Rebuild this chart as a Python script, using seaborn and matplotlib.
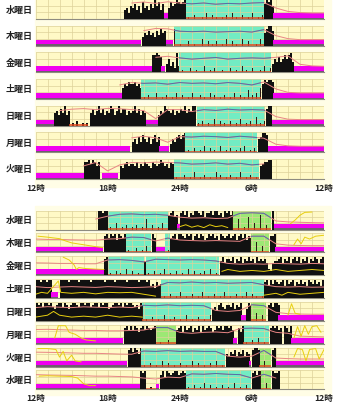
import numpy as np
import pandas as pd
import matplotlib
matplotlib.use("Agg")
import matplotlib.pyplot as plt
from matplotlib.patches import Rectangle
from matplotlib.ticker import MultipleLocator
import seaborn as sns

# ---------------------------------------------------------------- data
# Hours are counted from noon (0 = 12時, 24 = 12時 next day).
TOP_DAYS = ["水曜日", "木曜日", "金曜日", "土曜日", "日曜日", "月曜日", "火曜日"]
BOT_DAYS = ["水曜日", "木曜日", "金曜日", "土曜日", "日曜日", "月曜日", "火曜日", "水曜日"]
TICK_HOURS = [0, 6, 12, 18, 24]
TICK_LABELS = ["12時", "18時", "24時", "6時", "12時"]

# activity counts, one digit (0-9) per 10-minute epoch, 4 hours per chunk
TOP_ACTIVITY = [
    "000000000000000000000000" "000000000000000000004536" "574638564759684700586798"
    "789010020001030020100102" "003010020010300102798960" "000000000000000000000000",
    "000000000000000000000000" "000000000000000000000000" "000004657564758670000800"
    "100020010003002010200103" "002010030020001030689970" "000000000000000000000000",
    "000000000000000000000000" "000000000000000000000000" "000000000088987004635293"
    "010002001000300102000100" "020010030100200010300246" "575686895000000000000000",
    "000000000000000000000000" "000000000000000000057687" "786750102000300102001030"
    "020010300020100302001020" "010300201040203057989980" "000000000000000000000000",
    "000000000675869570102001" "010685796857698579688576" "796857600000057698768576"
    "879687990102001003002010" "020010300102004010289900" "000000000000000000000000",
    "000000000000000000000000" "000000000000000000000000" "564758657468570000046578"
    "689010020010300201003001" "020010203001020679980000" "000000000000000000000000",
    "000000000000000000000000" "889798680000000000657867" "768576876587679867587010"
    "002001030010200100302001" "020010300102001067889900" "000000000000000000000000",
]
BOT_ACTIVITY = [
    "000000000000000000000000" "000000099899010030010200" "102001050020010300789670"
    "897968799879688979978698" "979005001060030070020090" "000000000000000000000000",
    "000000000000000000000000" "000000000089798969879010" "002001030097000000178969"
    "987989689798679897869878" "978968979687005003000889" "000000000000000000000000",
    "000000000000000000000000" "000000000089010020100300" "200100701002001030010020"
    "010030020010200300107968" "879687968797869787863267" "789687968979687968798689",
    "998998990000999989999899" "999899999989999899999899" "999899989675867010020010"
    "300100200103001002001030" "010020010300201001896979" "878969789687978698797869",
    "989799897689979868998799" "899789979899678998979899" "878698010020010030010200"
    "100300100200100367589768" "879687900698004003008979" "980000000000000000000000",
    "000000000000000000000000" "000000000000000000008979" "798689798789001000200078"
    "969789687969789867989799" "897008690100200300100898" "978098690000000000000000",
    "000000000000000000000000" "000000000000000000000089" "798690100200100300200100"
    "200100300200100200300106" "576857685760899800300089" "000000000000000000000000",
    "000000000000000000000000" "000000000000000000000000" "000098900100007969878997"
    "898010020010300200100200" "100300100200897990030098" "890000000000000000000000",
]

# main sleep (aquamarine), naps (green), off-wrist (magenta), quiet rest
TOP_SLEEP = [[(12.5, 19.0)], [(11.5, 19.0)], [(11.9, 19.6)], [(8.75, 18.8)],
             [(13.4, 19.1)], [(12.4, 18.4)], [(11.5, 18.6)]]
TOP_NAP = [[], [], [], [], [], [], []]
TOP_OFF = [[(10.7, 11.0), (19.75, 24)], [(0, 8.75), (10.85, 11.4), (19.75, 24)],
           [(0, 9.7), (10.4, 10.8), (21.5, 24)], [(0, 7.2), (19.75, 24)],
           [(0, 1.5), (9.2, 10.2), (19.7, 24)], [(0, 7.9), (10.25, 11.1), (19.3, 24)],
           [(0, 4.0), (5.5, 6.9)]]
TOP_REST = [[], [], [], [], [(2.75, 4.4)], [], []]

BOT_SLEEP = [[(6.0, 11.0)], [(7.5, 9.6), (10.8, 11.2)], [(6.0, 9.0), (9.2, 15.25)],
             [(10.4, 19.0)], [(8.9, 14.6)], [(17.3, 19.4)], [(8.75, 15.8)], [(12.5, 17.9)]]
BOT_NAP = [[(16.4, 19.6)], [(17.9, 19.4)], [], [], [(17.9, 19.2)], [(10.0, 11.7)],
           [(18.6, 19.6)], [(18.75, 19.6)]]
BOT_OFF = [[(11.8, 12.0), (19.8, 24)], [(0, 5.6), (10.0, 10.8), (19.9, 24)], [(0, 5.7)],
           [(1.25, 1.9)], [(17.1, 17.5), (20.2, 24)], [(0, 7.3), (16.4, 16.75), (21.25, 24)],
           [(0, 7.6), (17.75, 17.9), (20.0, 24)], [(0, 8.7), (10.0, 10.25)]]
BOT_REST = [[], [], [], [], [], [], [], [(9.2, 10.0)]]

# skin temperature, hourly (fraction of row height), None = no recording
N = None
TOP_TEMP = [
    [N, N, N, N, N, N, N, N, .80, .85, .78, .86, .80, .76, .80, .74, .78, .76, .80, .82, .55, .38, .32, .30, .30],
    [N, N, N, N, N, N, N, N, N, .75, .86, .84, .72, .70, .72, .68, .70, .72, .68, .80, .50, .35, .30, .30, .30],
    [N, N, N, N, N, N, N, N, N, N, .75, .80, .72, .66, .70, .74, .66, .70, .72, .70, .75, .82, .40, .32, .30],
    [N, N, N, N, N, N, N, .70, .82, .78, .80, .74, .82, .78, .80, .76, .82, .78, .70, .85, .50, .33, .30, .30, .30],
    [N, N, .75, .82, .85, .80, .86, .84, .80, .75, .35, .80, .80, .70, .80, .76, .82, .78, .80, .78, .45, .32, .30, .30, .30],
    [N, N, N, N, N, N, N, N, .72, .80, .72, .50, .78, .76, .80, .78, .74, .80, .76, .70, .40, .32, .30, .30, .30],
    [N, N, N, N, .65, .82, .40, .70, .82, .80, .84, .82, .80, .74, .76, .80, .74, .78, .70, .75, N, N, N, N, N],
]
BOT_TEMP = [
    [N, N, N, N, N, .55, .70, .80, .82, .78, .80, .75, .65, .60, .62, .58, .60, .85, .88, .85, .45, .40, .38, .36, .35],
    [.70, .68, .68, .66, .65, .64, .70, .72, .80, .78, .60, .75, .65, .62, .60, .62, .60, .58, .85, .85, .45, .38, .36, .35, .35],
    [.65, .64, .62, .62, .60, .60, .80, .82, .78, .70, .84, .82, .80, .82, .80, .75, .62, .58, .60, .58, .62, .60, .58, .62, .60],
    [.60, .55, .58, .60, .58, .56, .60, .58, .55, .57, .60, .82, .80, .84, .80, .82, .78, .80, .82, .70, .60, .58, .60, .57, .58],
    [.70, .75, .72, .70, .74, .72, .70, .73, .70, .82, .80, .84, .80, .82, .80, .55, .50, .55, .85, .80, .45, .38, .36, .35, .35],
    [.75, .76, .74, .72, .70, .70, .68, .68, .70, .72, .85, .85, .60, .55, .60, .62, .58, .80, .82, .80, .60, .55, .40, .38, .36],
    [.76, .75, .74, .72, .70, .70, .68, .66, .65, .82, .80, .84, .80, .82, .80, .80, .55, .50, .55, .85, .45, .42, .40, .40, .40],
    [.78, .76, .75, .74, .72, .70, .70, .68, .66, .60, .55, .65, .62, .82, .80, .84, .80, .78, .60, .80, .60, N, N, N, N],
]

# ambient light traces (hour, fraction of row height), bottom panel only
BOT_LIGHT = [
    [[(12.0, .15), (12.5, .25), (13, .12), (13.5, .2), (14, .1), (14.5, .25), (15, .15), (15.5, .2), (16, .1)],
     [(21.2, .3), (21.6, .5), (22, .75), (22.4, .9), (23, .92)]],
    [[(0.2, .85), (1, .80), (2, .72), (2.5, .6), (3, .5), (4, .4), (5, .3), (5.6, .25)],
     [(21.5, .4), (21.8, .7), (22.1, .45), (22.4, .8), (22.8, .7), (23.3, .85), (24, .9)]],
    [[(2.3, .95), (2.8, .8), (3.2, .55), (3.4, .3), (3.6, .4), (4.2, .35), (5, .32), (5.7, .30)],
     [(15.5, .2), (16, .3), (17, .2), (18, .25), (19, .2), (20, .3), (21, .2), (22, .25), (23, .3), (24, .25)]],
    [[(0, .2), (0.5, .3), (1, .25), (1.9, .9), (2.1, .3), (3, .25), (4, .3), (5, .22), (6, .3), (7, .28),
      (8, .3), (8.5, .25), (9, .2), (9.5, .15), (10, .1)],
     [(19, .15), (20, .25), (20.5, .15), (21, .3), (22, .2), (23, .25), (24, .3)]],
    [[(0, .2), (1, .3), (1.5, .5), (2, .3), (3, .2), (4, .25), (5, .2), (6, .3), (7, .2), (8, .25), (8.9, .2)],
     [(21.0, .3), (21.3, .9), (21.6, .4), (22, .35)]],
    [[(1.6, .3), (1.9, .95), (2.5, .95), (2.8, .6), (3.3, .5), (3.8, .3), (4.2, .2), (5, .15)],
     [(21.5, .3), (21.8, .9), (22.1, .4), (22.4, .95), (22.7, .5), (23, .9), (23.4, .95), (23.75, .6)]],
    [[(0.2, .95), (1, .95), (1.7, .9), (2, .5), (2.3, .8), (2.6, .3), (3, .6), (3.3, .3), (3.8, .25)],
     [(21.5, .5), (21.8, .95), (22.2, .9), (22.5, .3), (22.8, .9), (23.3, .95), (23.6, .4), (24, .9)]],
    [[(0.3, .7), (1, .72), (2, .70), (3, .68), (3.5, .6), (4, .3), (4.5, .2), (5, .2)]],
]

# ---------------------------------------------------------------- style
ROW_BG = "#FFF9C6"
PANEL_BG = "#FFFDE6"
GRID = "#DDD29A"
INK = "#111111"
AQUA = "#72ECC3"
NAPGREEN = "#9DE874"
MAGENTA = "#F000F0"
BASE_RED = "#E2461E"
TEMP_PINK = "#E98585"
TEMP_BLUE = "#4F72A8"
LIGHT_YELLOW = "#E8CF10"

sns.set_theme(style="white")
plt.rcParams["font.family"] = ["Noto Sans CJK JP", "DejaVu Sans"]

W, H = 340, 411
fig = plt.figure(figsize=(W / 100, H / 100), dpi=100)
fig.patch.set_facecolor("white")

X0, X1 = 35.5, 324.0
EPOCH = np.arange(144) / 6 + 1 / 12


def add_px_axes(top, height):
    return fig.add_axes([X0 / W, 1 - (top + height) / H, (X1 - X0) / W, height / H])


def in_spans(x, spans):
    mask = np.zeros_like(x, dtype=bool)
    for s, e in spans:
        mask |= (x >= s) & (x < e)
    return mask


def draw_row(ax, activity, sleep, nap, off, rest, temp, light):
    ax.set_xlim(0, 24)
    ax.set_ylim(0, 1)
    ax.set_facecolor(ROW_BG)
    ax.set_axisbelow(False)
    ax.xaxis.set_major_locator(MultipleLocator(6))
    ax.xaxis.set_minor_locator(MultipleLocator(1))
    ax.set_yticks([1 / 3, 2 / 3, 1.0])
    ax.grid(which="both", axis="both", color=GRID, linewidth=0.5, zorder=2)
    ax.tick_params(which="both", length=0, labelbottom=False, labelleft=False)
    for side in ("top", "left", "right"):
        ax.spines[side].set_visible(False)
    ax.spines["bottom"].set_color("#8E8C80")
    ax.spines["bottom"].set_linewidth(0.8)

    for s, e in sleep:
        ax.axvspan(s, e, color=AQUA, lw=0, zorder=1)
    for s, e in nap:
        ax.axvspan(s, e, color=NAPGREEN, lw=0, zorder=1)

    levels = np.array([int(c) for c in activity]) / 9 * 0.96
    asleep = in_spans(EPOCH, sleep + nap)
    # waking epochs drawn edge to edge, epochs inside sleep as thin spikes
    ax.bar(EPOCH[~asleep], levels[~asleep], width=1 / 6, color=INK, linewidth=0, zorder=3)
    ax.bar(EPOCH[asleep], levels[asleep], width=0.07, color="#2A1A14", linewidth=0, zorder=3)

    for s, e in sleep + nap + rest:
        ax.hlines(0.035, s, e, color=BASE_RED, lw=1.1, zorder=3.6)
    for s, e in off:
        ax.broken_barh([(s, e - s)], (0.06, 0.24), color=MAGENTA, lw=0, zorder=3.5)
        ax.broken_barh([(s, e - s)], (0.0, 0.06), color="#6E5E6E", lw=0, zorder=3.5)

    tdf = pd.DataFrame({"hour": np.arange(25), "temp": temp}).dropna()
    sns.lineplot(data=tdf, x="hour", y="temp", ax=ax, color=TEMP_PINK, lw=0.7,
                 zorder=5, estimator=None)
    for s, e in sleep + nap:
        sns.lineplot(data=tdf, x="hour", y="temp", ax=ax, color=TEMP_BLUE, lw=0.7,
                     zorder=5.5, estimator=None)
        ax.lines[-1].set_clip_path(Rectangle((s, 0), e - s, 1, transform=ax.transData))

    for piece in light or []:
        ldf = pd.DataFrame(piece, columns=["hour", "lux"])
        sns.lineplot(data=ldf, x="hour", y="lux", ax=ax, color=LIGHT_YELLOW, lw=0.7,
                     zorder=5.2, estimator=None, sort=False)
    ax.set_xlabel("")
    ax.set_ylabel("")


def label_axis(ax):
    ax.set_xticks(TICK_HOURS)
    ax.set_xticklabels(TICK_LABELS, fontweight="bold")
    ax.tick_params(axis="x", which="major", labelbottom=True, pad=3.5,
                   labelsize=6.2, labelcolor="#222222")


# pale panel backdrops
for top, bottom in ((0, 187), (206, 395)):
    fig.patches.append(Rectangle((35 / W, 1 - bottom / H), (331 - 35) / W, (bottom - top) / H,
                                 transform=fig.transFigure, color=PANEL_BG, zorder=-10))

# upper panel
TOP_Y0, TOP_PITCH, TOP_H = -1.0, 26.65, 20.0
for i, day in enumerate(TOP_DAYS):
    ax = add_px_axes(TOP_Y0 + i * TOP_PITCH, TOP_H)
    draw_row(ax, TOP_ACTIVITY[i], TOP_SLEEP[i], TOP_NAP[i], TOP_OFF[i], TOP_REST[i],
             TOP_TEMP[i], None)
    ax.text(-0.01, 0.45, day, transform=ax.transAxes, ha="right", va="center",
            fontsize=6.5, fontweight="bold", color="#222222")
    if i == len(TOP_DAYS) - 1:
        label_axis(ax)

# lower panel
BOT_Y0, BOT_PITCH, BOT_H = 210.5, 22.85, 19.0
for i, day in enumerate(BOT_DAYS):
    ax = add_px_axes(BOT_Y0 + i * BOT_PITCH, BOT_H)
    draw_row(ax, BOT_ACTIVITY[i], BOT_SLEEP[i], BOT_NAP[i], BOT_OFF[i], BOT_REST[i],
             BOT_TEMP[i], BOT_LIGHT[i])
    ax.text(-0.01, 0.45, day, transform=ax.transAxes, ha="right", va="center",
            fontsize=6.5, fontweight="bold", color="#222222")
    if i == len(BOT_DAYS) - 1:
        label_axis(ax)

fig.savefig("out.png", dpi=100, facecolor="white")
